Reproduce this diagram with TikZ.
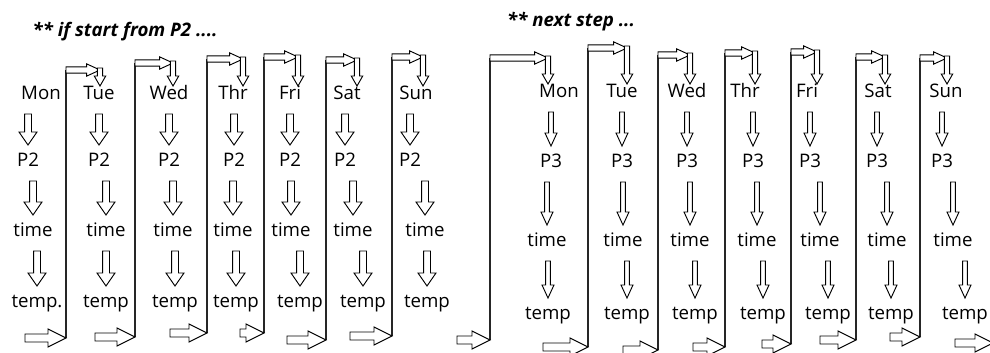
\documentclass[tikz,border=0pt]{standalone}
\usepackage{fontspec}
\setmainfont{Open Sans}
\usetikzlibrary{calc}

\tikzset{
  arr shaft/.store in=\arrshaft, arr head/.store in=\arrhead, arr len/.store in=\arrlen,
  arr from/.store in=\arrfrom, arr to/.store in=\arrto,
  arr shaft=2.6pt, arr head=6.75pt, arr len=9.75pt, arr from=14.25pt, arr to=12.75pt,
  % hollow block arrow, pointing down, at the x of the target
  blkdn/.style={draw=black, fill=white, line width=0.7pt, to path={
    let \p1=(\tikztostart), \p2=(\tikztotarget) in
    (\x2-\arrshaft,\y1-\arrfrom) -- (\x2-\arrshaft,\y2+\arrto+\arrlen)
    -- (\x2-\arrhead,\y2+\arrto+\arrlen) -- (\x2,\y2+\arrto)
    -- (\x2+\arrhead,\y2+\arrto+\arrlen) -- (\x2+\arrshaft,\y2+\arrto+\arrlen)
    -- (\x2+\arrshaft,\y1-\arrfrom) -- cycle}},
  % hollow block arrow, pointing right, at the y of the target
  blkrt/.style={draw=black, fill=white, line width=0.7pt, to path={
    let \p1=(\tikztostart), \p2=(\tikztotarget) in
    (\x1,\y2-\arrshaft) -- (\x2-\arrlen,\y2-\arrshaft) -- (\x2-\arrlen,\y2-\arrhead)
    -- (\x2,\y2) -- (\x2-\arrlen,\y2+\arrhead) -- (\x2-\arrlen,\y2+\arrshaft)
    -- (\x1,\y2+\arrshaft) -- cycle}},
  bigdn/.style={blkdn, arr shaft=2.6pt, arr head=6.75pt, arr len=9.75pt},
  thindn/.style={blkdn, arr shaft=1.8pt, arr head=4.5pt, arr len=9.75pt},
  entarr/.style={blkdn, arr shaft=2pt, arr head=4.3pt, arr len=7.5pt, arr from=-1.5pt, arr to=6.75pt},
  botarr/.style={blkrt, arr shaft=3pt, arr head=6.75pt, arr len=13.5pt},
  toparr/.style={blkrt, arr shaft=2.3pt, arr head=4.6pt, arr len=10pt},
  route/.style={draw=black!85, line width=1pt},
  lbl/.style={font=\fontsize{14}{16}\selectfont, inner sep=0pt, text height=10pt, text depth=3pt},
  ttl/.style={font=\fontsize{14}{16}\selectfont\bfseries\itshape, inner sep=0pt}
}

\begin{document}
\begin{tikzpicture}[x=0.75pt, y=-0.75pt]
  \path[use as bounding box, clip] (0,0) rectangle (990,353);

  \node[ttl] (ttla) at (125,32) {** if start from P2 ....};
  \node[ttl] (ttlb) at (571,22) {** next step ...};

  % first week, P2
  \foreach \c/\dy/\xd/\xp/\xt/\xm/\tx in {1/Mon/41/28/33/37/temp., 2/Tue/99/99/106/106/temp,
      3/Wed/169/169/173/175/temp, 4/Thr/233/234/233/236/temp, 5/Fri/290/290/291/300/temp,
      6/Sat/347/345/353/363/temp, 7/Sun/416/410/425/427/temp}{
    \node[lbl] (da\c) at (\xd,95) {\dy};
    \node[lbl] (pa\c) at (\xp,162) {P2};
    \node[lbl] (ta\c) at (\xt,232) {time};
    \node[lbl] (ma\c) at (\xm,303) {\tx};
    \draw[bigdn] (da\c) to (pa\c);
    \draw[bigdn] (pa\c) to (ta\c);
    \draw[bigdn] (ta\c) to (ma\c);
  }

  % second week, P3
  \foreach \c/\dy/\xd/\xp/\xt/\xm in {1/Mon/559/551/547/548, 2/Tue/622/622/623/627,
      3/Wed/687/687/690/695, 4/Thr/745/753/757/763, 5/Fri/807/810/820/828,
      6/Sat/878/877/887/891, 7/Sun/946/942/953/965}{
    \node[lbl] (db\c) at (\xd,93) {\dy};
    \node[lbl] (pb\c) at (\xp,163) {P3};
    \node[lbl] (tb\c) at (\xt,242) {time};
    \node[lbl] (mb\c) at (\xm,315) {temp};
    \draw[thindn] (db\c) to (pb\c);
    \draw[thindn] (pb\c) to (tb\c);
    \draw[thindn] (tb\c) to (mb\c);
  }

  % day to day, first week
  \foreach \c/\k/\s/\l/\b/\t/\e in {1/2/25/66/338/70/100, 2/3/95/135/337/63/173,
      3/4/170/207/333/59/243, 4/5/240/264/333/57/298, 5/6/287/326/340/60/357,
      6/7/350/392/336/57/423}{
    \coordinate (sa\c) at (\s,\b);
    \coordinate (ba\c) at (\l,\b);
    \coordinate (ka\c) at (\l,\t);
    \coordinate (ea\c) at (\e,\t);
    \draw[route] (ba\c) -- (ka\c);
    \draw[botarr] (sa\c) to (ba\c);
    \draw[toparr] (ka\c) to (ea\c);
    \draw[entarr] (ea\c) to (ea\c |- da\k);
  }

  % Sun of the first week to Mon of the next
  \coordinate (sa7) at (457,340);
  \coordinate (ba7) at (490,340);
  \coordinate (ka7) at (490,58);
  \coordinate (ea7) at (548,58);
  \draw[route] (ba7) -- (ka7);
  \draw[botarr] (sa7) to (ba7);
  \draw[toparr] (ka7) to (ea7);
  \draw[entarr] (ea7) to (ea7 |- db1);

  % day to day, second week
  \foreach \c/\k/\s/\l/\b/\t/\e in {1/2/543/588/347/48/627, 2/3/623/658/350/55/690,
      3/4/693/725/347/53/755, 4/5/762/791/344/52/817, 5/6/820/856/340/57/885,
      6/7/890/920/337/58/947}{
    \coordinate (sb\c) at (\s,\b);
    \coordinate (bb\c) at (\l,\b);
    \coordinate (kb\c) at (\l,\t);
    \coordinate (eb\c) at (\e,\t);
    \draw[route] (bb\c) -- (kb\c);
    \draw[botarr] (sb\c) to (bb\c);
    \draw[toparr] (kb\c) to (eb\c);
    \draw[entarr] (eb\c) to (eb\c |- db\k);
  }

  \coordinate (sb7) at (955,343);
  \coordinate (bb7) at (993,343);
  \draw[botarr] (sb7) to (bb7);
\end{tikzpicture}
\end{document}
